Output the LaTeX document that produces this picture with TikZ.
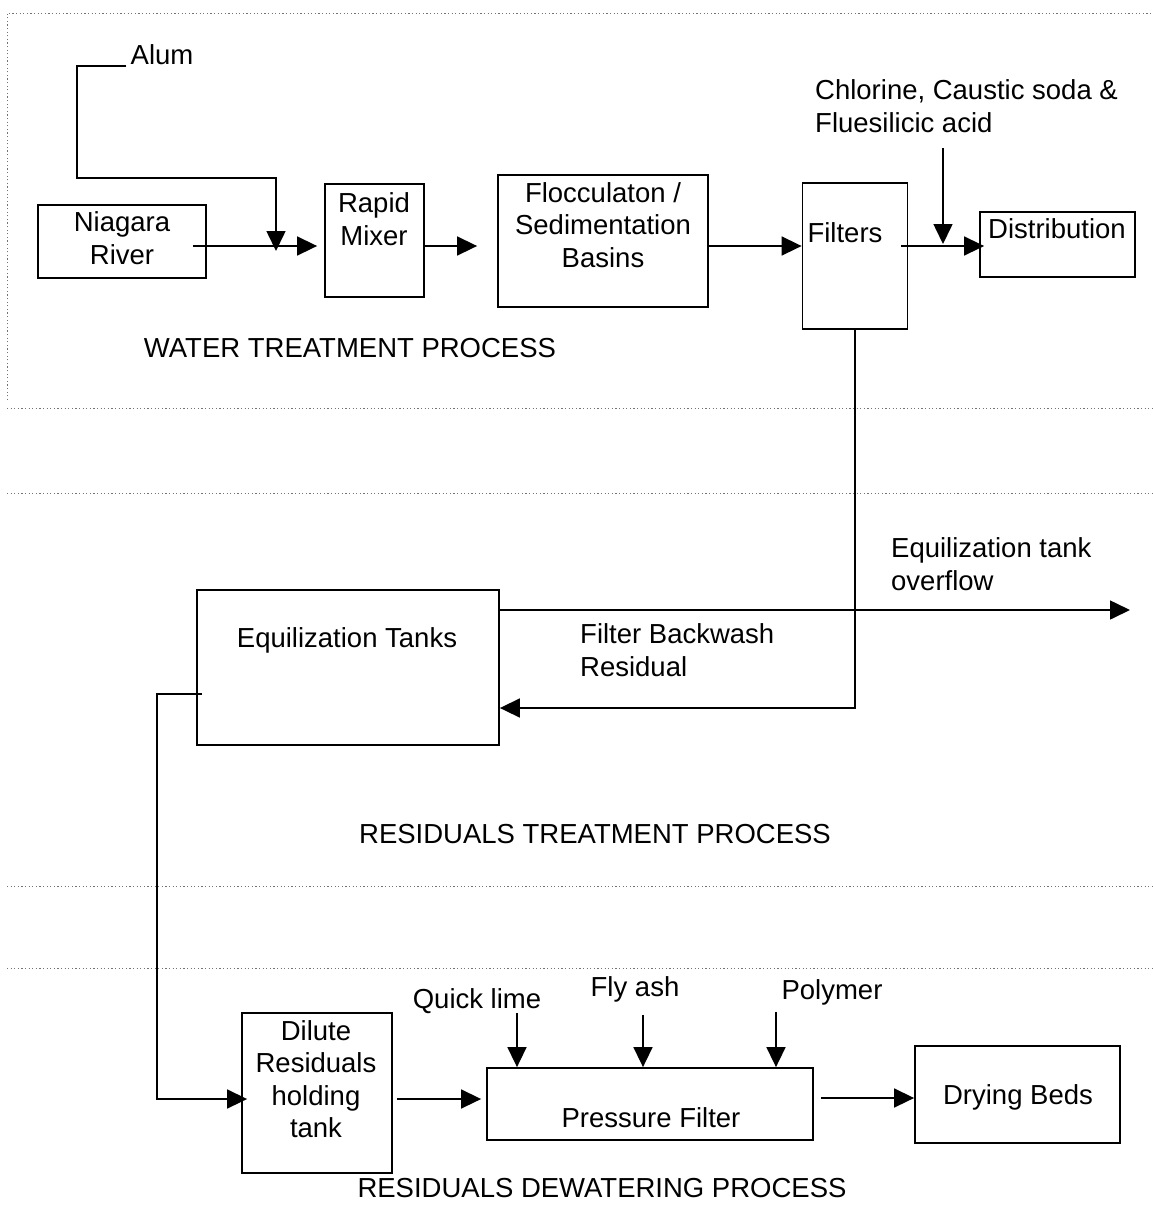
\documentclass[tikz,border=0pt]{standalone}
\usepackage{fontspec}
\setmainfont{Liberation Sans}
\usetikzlibrary{arrows.meta,calc}
\begin{document}
\begin{tikzpicture}[x=1pt,y=-1pt,
  box/.style={draw, line width=1.8pt, inner sep=0pt},
  txt/.style={inner sep=0pt, align=center, font=\fontsize{27.5}{32.5}\selectfont},
  arr/.style={line width=1.6pt, -{Triangle[length=20pt,width=19pt]}},
  sep/.style={black!55, line width=0.9pt, dash pattern=on 1.2pt off 2.4pt}]

\path[use as bounding box, fill=white] (0,0) rectangle (1153,1224);

% section separators
\draw[sep] (7,400) -- (7,13) -- (1153,13);
\draw[sep] (7,408) -- (1153,408);
\draw[sep] (7,493) -- (1153,493);
\draw[sep] (7,886) -- (1153,886);
\draw[sep] (7,968) -- (1153,968);

% ---------- water treatment ----------
\node[box, minimum width=168pt, minimum height=73pt] (river) at (122,241.5) {};
\node[txt] (rivertxt) at (122,238) {Niagara\\River};
\node[box, minimum width=99pt, minimum height=113pt] (mixer) at (374.5,240.5) {};
\node[txt] (mixertxt) at (374,219) {Rapid\\Mixer};
\node[box, minimum width=210pt, minimum height=132pt] (floc) at (603,241) {};
\node[txt] (floctxt) at (603,225) {Flocculaton /\\Sedimentation\\Basins};
\node[box, minimum width=105pt, minimum height=146pt] (filters) at (855,256) {};
\node[txt] (filterstxt) at (845,233) {Filters};
\node[box, minimum width=155pt, minimum height=65pt] (dist) at (1057.5,244.5) {};
\node[txt] (disttxt) at (1057,229) {Distribution};

\node[txt] (alum) at (162,55) {Alum};
\node[txt, align=left, anchor=west] (chem) at (815,106) {Chlorine, Caustic soda \&\\Fluesilicic acid};
\node[txt] (wtp) at (350,348) {WATER TREATMENT PROCESS};

\coordinate (row) at (0,246);
\coordinate (chemin) at (943,148);

\draw[arr] ([xshift=-4pt]alum.west |- 0,66) -| (77,178) -| (276,251);
\draw[arr] ([xshift=-14pt]river.east |- row) -- ([xshift=-7pt]mixer.west |- row);
\draw[arr] (mixer.east |- row) -- ([xshift=-20pt]floc.west |- row);
\draw[arr] (floc.east |- row) -- (filters.west |- row);
\draw[arr] ([xshift=-7pt]filters.east |- row) -- ([xshift=5pt]dist.west |- row);
\draw[arr] (chemin) -- ([yshift=2pt]chemin |- row);

% ---------- residuals treatment ----------
\node[box, minimum width=302pt, minimum height=155pt] (eq) at (348,667.5) {};
\node[txt] (eqtxt) at (347,640) {Equilization Tanks};
\node[txt, align=left, anchor=west] (overtxt) at (891,564) {Equilization tank\\overflow};
\node[txt, align=left, anchor=west] (backtxt) at (580,650) {Filter Backwash\\Residual};
\node[txt] (rtp) at (595,834) {RESIDUALS TREATMENT PROCESS};

\coordinate (over) at (1130,610);
\draw[arr] (filters.south) |- (eq.east |- 0,708);
\draw[arr] (eq.east |- over) -- (over);

% ---------- residuals dewatering ----------
\node[box, minimum width=150pt, minimum height=160pt] (dilute) at (317,1093) {};
\node[txt] (dilutetxt) at (316,1079) {Dilute\\Residuals\\holding\\tank};
\node[box, minimum width=326pt, minimum height=72pt] (pressure) at (650,1104) {};
\node[txt] (pressuretxt) at (651,1118) {Pressure Filter};
\node[box, minimum width=205pt, minimum height=97pt] (drying) at (1017.5,1094.5) {};
\node[txt] (dryingtxt) at (1018,1097) {Drying Beds};

\node[txt] (lime) at (477,1001) {Quick lime};
\node[txt] (ash) at (635,989) {Fly ash};
\node[txt] (poly) at (832,992) {Polymer};
\node[txt] (rdp) at (602,1188) {RESIDUALS DEWATERING PROCESS};

\coordinate (limein) at (517,1013);
\coordinate (ashin) at (643,1015);
\coordinate (polyin) at (776,1012);

\draw[arr] ([xshift=6pt]eq.west |- 0,694) -| (157,1099) -- ([xshift=6pt]dilute.west |- 0,1099);
\draw[arr] ([xshift=4pt]dilute.east |- 0,1099) -- ([xshift=-5pt]pressure.west |- 0,1099);
\draw[arr] (limein) -- (limein |- pressure.north);
\draw[arr] (ashin) -- (ashin |- pressure.north);
\draw[arr] (polyin) -- (polyin |- pressure.north);
\draw[arr] ([xshift=7pt]pressure.east |- 0,1098) -- (drying.west |- 0,1098);
\end{tikzpicture}
\end{document}
